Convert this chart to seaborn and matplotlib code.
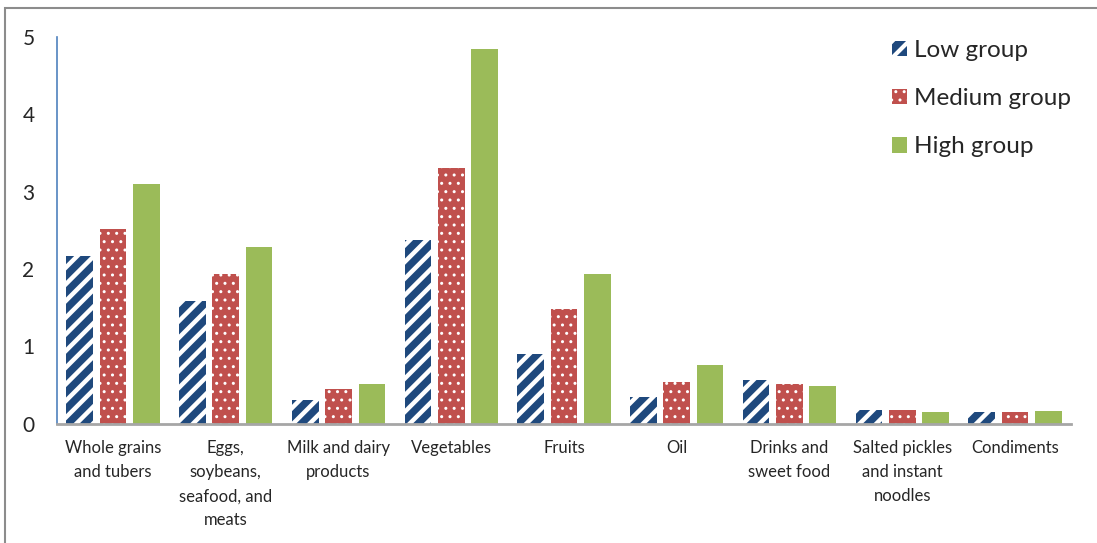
import matplotlib
matplotlib.use("Agg")
import matplotlib.pyplot as plt
from matplotlib.patches import Patch, Rectangle
import pandas as pd
import seaborn as sns

# Food group intake by diet-quality group
categories = [
    "Whole grains\nand tubers",
    "Eggs,\nsoybeans,\nseafood, and\nmeats",
    "Milk and dairy\nproducts",
    "Vegetables",
    "Fruits",
    "Oil",
    "Drinks and\nsweet food",
    "Salted pickles\nand instant\nnoodles",
    "Condiments",
]
groups = ["Low group", "Medium group", "High group"]
low = [2.17, 1.58, 0.30, 2.37, 0.90, 0.34, 0.56, 0.18, 0.15]
medium = [2.52, 1.94, 0.45, 3.31, 1.48, 0.54, 0.51, 0.18, 0.15]
high = [3.10, 2.28, 0.51, 4.84, 1.93, 0.76, 0.49, 0.15, 0.16]
yticks = [0, 1, 2, 3, 4, 5]

colors = ["#1F497D", "#C0504D", "#9BBB59"]
hatches = ["//", "..", ""]
hatch_lws = [3.2, 1.0, 0.0]

df = pd.DataFrame({
    "category": categories * 3,
    "group": [g for g in groups for _ in categories],
    "value": low + medium + high,
})

sns.set_style("white")
plt.rcParams["font.family"] = ["Lato", "DejaVu Sans"]


def style_patch(p, hatch, lw):
    p.set_hatch(hatch)
    p.set_edgecolor("white")
    p.set_linewidth(0)
    if hasattr(p, "set_hatch_linewidth"):
        p.set_hatch_linewidth(lw)
    else:
        p._hatch_linewidth = lw


W, H = 1097, 543
fig = plt.figure(figsize=(W / 100, H / 100), dpi=100)
ax = fig.add_axes([56.7 / W, (H - 423.5) / H, (1071.3 - 56.7) / W, 386.5 / H])

sns.barplot(
    data=df, x="category", y="value", hue="group", hue_order=groups,
    palette=colors, saturation=1, width=0.887, gap=0.2, legend=False, ax=ax,
)

for container, hatch, lw in zip(ax.containers, hatches, hatch_lws):
    for bar in container:
        style_patch(bar, hatch, lw)

ax.set_xlim(-0.5, len(categories) - 0.5)
ax.set_ylim(0, 5)
ax.set_yticks(yticks)
ax.set_xlabel("")
ax.set_ylabel("")
ax.tick_params(axis="both", length=0)
ax.tick_params(axis="y", labelsize=15, pad=16)
ax.tick_params(axis="x", labelsize=12, pad=12)
for lab in ax.get_xticklabels():
    lab.set_linespacing(1.62)
    lab.set_multialignment("center")

for side in ("top", "right"):
    ax.spines[side].set_visible(False)
ax.spines["left"].set_color("#4F81BD")
ax.spines["left"].set_linewidth(1.2)
ax.spines["bottom"].set_color("#A6A6A6")
ax.spines["bottom"].set_linewidth(2)

handles = [
    Patch(facecolor=c, edgecolor="white", hatch=h, linewidth=0, label=g)
    for c, h, g in zip(colors, hatches, groups)
]
leg = fig.legend(
    handles=handles, loc="upper left",
    bbox_to_anchor=(892 / W, (H - 40) / H), frameon=False,
    fontsize=17.5, handlelength=0.6, handleheight=0.6,
    handletextpad=0.3, labelspacing=1.12, borderpad=0, borderaxespad=0,
)
for p, h, lw in zip(leg.get_patches(), hatches, [3.0, 1.0, 0.0]):
    style_patch(p, h, lw)

# outer frame
fig.patches.append(Rectangle(
    (5 / W, -0.1), 1.2, (H - 8) / H + 0.1, transform=fig.transFigure,
    fill=False, edgecolor="#8C8C8C", linewidth=1.5, zorder=10,
))

fig.savefig("out.png", dpi=100)
